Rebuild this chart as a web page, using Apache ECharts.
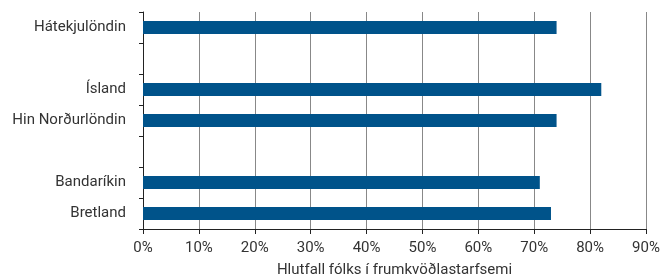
<!DOCTYPE html>
<html>
<head>
<meta charset="utf-8">
<script src="https://cdn.jsdelivr.net/npm/echarts@6/dist/echarts.min.js"></script>
<style>
  html, body { margin: 0; padding: 0; background: #fff; }
  #chart { width: 666px; height: 279px; }
</style>
</head>
<body>
<div id="chart"></div>
<script>
// flokkar, tómir flokkar gefa bil á milli hópa
var categories = ["Hátekjulöndin", " ", "Ísland", "Hin Norðurlöndin", "  ", "Bandaríkin", "Bretland"];
var values = [74, "-", 82, 74, "-", 71, 73];
var xTicks = [0, 10, 20, 30, 40, 50, 60, 70, 80, 90];

var myChart = echarts.init(document.getElementById("chart"));
var font = "Roboto";
var option = {
  animation: false,
  grid: {
    left: 143,
    right: 20,
    top: 12,
    bottom: 50,
    outerBoundsMode: "none"
  },
  xAxis: {
    type: "value",
    min: xTicks[0],
    max: xTicks[xTicks.length - 1],
    interval: 10,
    name: "Hlutfall fólks í frumkvöðlastarfsemi",
    nameLocation: "middle",
    nameGap: 34,
    nameTextStyle: { color: "#333", fontSize: 15, fontFamily: font },
    axisLine: { show: true, lineStyle: { color: "#222", width: 1 } },
    axisTick: { show: true, length: 5, lineStyle: { color: "#222" } },
    axisLabel: {
      formatter: "{value}%",
      color: "#333",
      fontSize: 15,
      fontFamily: font,
      margin: 12
    },
    splitLine: { show: true, lineStyle: { color: "#888", width: 1 } }
  },
  yAxis: {
    type: "category",
    inverse: true,
    data: categories,
    axisLine: { show: true, lineStyle: { color: "#222", width: 1 } },
    axisTick: { show: true, length: 4, lineStyle: { color: "#222" } },
    axisLabel: { color: "#333", fontSize: 15, fontFamily: font, margin: 17 },
    splitLine: { show: false }
  },
  series: [
    {
      type: "bar",
      data: values,
      barWidth: 13,
      itemStyle: { color: "#00538a" }
    }
  ]
};
myChart.setOption(option);
</script>
</body>
</html>
